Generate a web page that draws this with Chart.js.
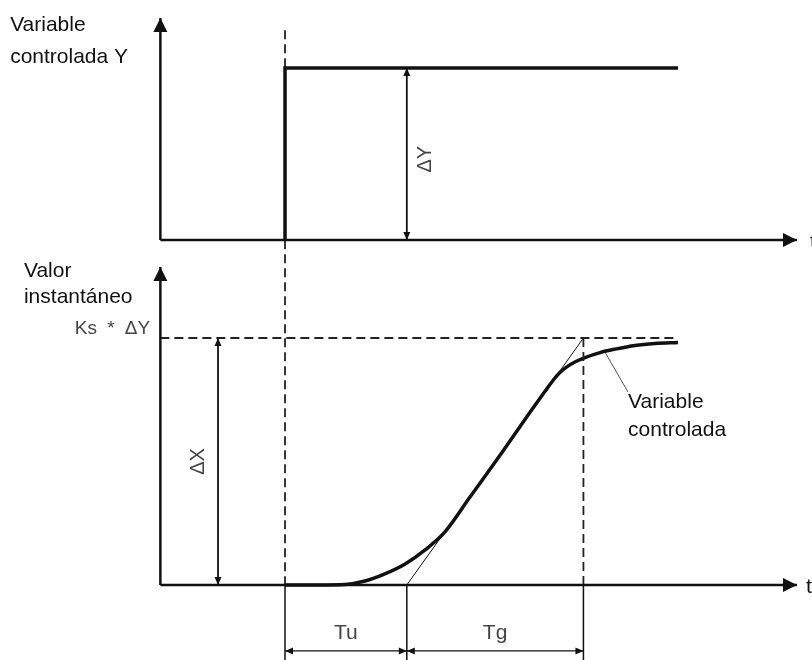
<!DOCTYPE html>
<html>
<head>
<meta charset="utf-8">
<script src="https://cdn.jsdelivr.net/npm/chart.js@4"></script>
<style>
  html, body { margin: 0; padding: 0; background: #fff; }
  #wrap { width: 812px; height: 660px; position: relative; }
</style>
</head>
<body>
<div id="wrap"><canvas id="c"></canvas></div>
<script>
// Step response: input step ΔY (upper panel) and the controlled variable (lower panel)

// time (s) of the normalized response curve and its values (fraction of Ks·ΔY)
const responseTime  = [0, 0.86, 1.48, 1.97, 2.46, 2.96, 3.45, 3.94, 4.56, 5.30, 5.79, 6.03, 6.40, 6.60, 6.77, 6.95, 7.14, 7.39, 7.76, 8.13, 8.62, 9.11, 9.68];
const responseValue = [0, 0, 0.002, 0.016, 0.045, 0.085, 0.142, 0.215, 0.357, 0.526, 0.642, 0.698, 0.783, 0.828, 0.860, 0.884, 0.903, 0.921, 0.941, 0.955, 0.970, 0.978, 0.982];

// input step
const stepTime  = [0, 0, 9.68];
const stepValue = [0, 1, 1];

const tu = 3.0;        // dead time Tu
const tg = 4.35;       // rise time Tg
const deltaY = 1;      // step height ΔY
const ksDeltaY = 1;    // final value Ks·ΔY

// axis extents
const axisStart = -3.07;
const axisTip = 12.61;
const topAxisTip = 1.29;
const bottomAxisTip = 1.287;
const deltaXAt = -1.65;
const dimLevel = -0.267;
const dimBottom = -0.32;

const INK = '#111';
const GREY = '#444';
const FONT = '"Liberation Sans", Arial, Helvetica, sans-serif';

const pts = (xs, ys) => xs.map((x, i) => ({ x, y: ys[i] }));
const seg = (x0, y0, x1, y1) => [{ x: x0, y: y0 }, { x: x1, y: y1 }];

function line(data, axis, opts) {
  return Object.assign({
    data, yAxisID: axis, borderColor: INK, borderWidth: 2,
    pointRadius: 0, fill: false, tension: 0, borderJoinStyle: 'miter', borderCapStyle: 'butt'
  }, opts || {});
}

const datasets = [
  // axes
  line(seg(axisStart, 0, axisTip, 0), 'yTop', { borderWidth: 2.5, arrowHeads: 'end', arrowSize: [14, 7] }),
  line(seg(axisStart, 0, axisStart, topAxisTip), 'yTop', { borderWidth: 2.5, arrowHeads: 'end', arrowSize: [14, 7] }),
  line(seg(axisStart, 0, axisTip, 0), 'yBot', { borderWidth: 2.5, arrowHeads: 'end', arrowSize: [14, 7] }),
  line(seg(axisStart, 0, axisStart, bottomAxisTip), 'yBot', { borderWidth: 2.5, arrowHeads: 'end', arrowSize: [14, 7] }),

  // input step
  line(pts(stepTime, stepValue), 'yTop', { borderWidth: 3.5 }),
  // ΔY dimension
  line(seg(tu, 0, tu, deltaY), 'yTop', { borderWidth: 1.8, arrowHeads: 'both', arrowSize: [8, 3.5] }),

  // Ks·ΔY level and Tu+Tg guide
  line(seg(axisStart, ksDeltaY, stepTime[2], ksDeltaY), 'yBot', { borderWidth: 1.8, borderColor: '#222', borderDash: [9, 5] }),
  line(seg(tu + tg, 0, tu + tg, ksDeltaY), 'yBot', { borderWidth: 1.8, borderColor: '#222', borderDash: [9, 5] }),
  // ΔX dimension
  line(seg(deltaXAt, 0, deltaXAt, ksDeltaY), 'yBot', { borderWidth: 1.8, arrowHeads: 'both', arrowSize: [8, 3.5] }),
  // inflection tangent
  line(seg(tu, 0, tu + tg, ksDeltaY), 'yBot', { borderWidth: 1 }),
  // controlled variable
  line(pts(responseTime, responseValue), 'yBot', { borderWidth: 3.5, cubicInterpolationMode: 'monotone' }),
  // leader to the curve label
  line(seg(7.88, 0.943, 8.45, 0.781), 'yBot', { borderWidth: 1, borderColor: '#555' }),

  // Tu / Tg dimensions below the time axis
  line(seg(0, 0, 0, dimBottom), 'yBot', { borderWidth: 1.5 }),
  line(seg(tu, 0, tu, dimBottom), 'yBot', { borderWidth: 1.5 }),
  line(seg(tu + tg, 0, tu + tg, dimBottom), 'yBot', { borderWidth: 1.5 }),
  line(seg(0, dimLevel, tu, dimLevel), 'yBot', { borderWidth: 1.2, arrowHeads: 'both', arrowSize: [8, 3.5] }),
  line(seg(tu, dimLevel, tu + tg, dimLevel), 'yBot', { borderWidth: 1.2, arrowHeads: 'both', arrowSize: [8, 3.5] })
];

// text placed in data coordinates of the panel it belongs to
const labels = [
  { text: 'Variable', t: -6.77, v: 1.217, axis: 'yTop', size: 21, color: INK, align: 'left' },
  { text: 'controlada Y', t: -6.77, v: 1.031, axis: 'yTop', size: 21, color: INK, align: 'left' },
  { text: 'Valor', t: -6.43, v: 1.248, axis: 'yBot', size: 21, color: INK, align: 'left' },
  { text: 'instantáneo', t: -6.43, v: 1.140, axis: 'yBot', size: 21, color: INK, align: 'left' },
  { text: 'Ks * ΔY', t: -3.32, v: 1.016, axis: 'yBot', size: 19, color: GREY, align: 'right', wordSpacing: '5px' },
  { text: 'ΔY', t: 3.47, v: 0.47, axis: 'yTop', size: 20, color: GREY, align: 'center', baseline: 'middle', rot: -Math.PI / 2 },
  { text: 'ΔX', t: -2.12, v: 0.50, axis: 'yBot', size: 20, color: GREY, align: 'center', baseline: 'middle', rot: -Math.PI / 2 },
  { text: 'Tu', t: tu / 2, v: -0.219, axis: 'yBot', size: 21, color: GREY, align: 'center' },
  { text: 'Tg', t: tu + tg / 2, v: -0.219, axis: 'yBot', size: 21, color: GREY, align: 'center' },
  { text: 'Variable', t: 8.45, v: 0.717, axis: 'yBot', size: 21, color: INK, align: 'left' },
  { text: 'controlada', t: 8.45, v: 0.604, axis: 'yBot', size: 21, color: INK, align: 'left' },
  { text: 't', t: 12.83, v: -0.032, axis: 'yBot', size: 21, color: INK, align: 'left' },
  { text: 't', t: 12.93, v: -0.046, axis: 'yTop', size: 21, color: INK, align: 'left' }
];

const arrowHeads = {
  id: 'arrowHeads',
  afterDatasetsDraw(chart) {
    const ctx = chart.ctx;
    chart.data.datasets.forEach((ds, i) => {
      if (!ds.arrowHeads) return;
      const p = chart.getDatasetMeta(i).data;
      const [len, half] = ds.arrowSize;
      const head = (tip, from) => {
        const a = Math.atan2(tip.y - from.y, tip.x - from.x);
        ctx.save();
        ctx.translate(tip.x, tip.y);
        ctx.rotate(a);
        ctx.beginPath();
        ctx.moveTo(0, 0);
        ctx.lineTo(-len, -half);
        ctx.lineTo(-len, half);
        ctx.closePath();
        ctx.fillStyle = ds.borderColor;
        ctx.fill();
        ctx.restore();
      };
      head(p[p.length - 1], p[p.length - 2]);
      if (ds.arrowHeads === 'both') head(p[0], p[1]);
    });
  }
};

// dashed guide at the step instant, running through both panels
const stepGuide = {
  id: 'stepGuide',
  beforeDatasetsDraw(chart) {
    const { ctx, scales } = chart;
    const x = scales.x.getPixelForValue(stepTime[0]);
    ctx.save();
    ctx.strokeStyle = '#222';
    ctx.lineWidth = 1.8;
    ctx.setLineDash([9, 5]);
    ctx.beginPath();
    ctx.moveTo(x, scales.yTop.getPixelForValue(1.22));
    ctx.lineTo(x, scales.yBot.getPixelForValue(0));
    ctx.stroke();
    ctx.restore();
  }
};

const diagramText = {
  id: 'diagramText',
  afterDraw(chart) {
    const { ctx, scales } = chart;
    labels.forEach(l => {
      ctx.save();
      ctx.translate(scales.x.getPixelForValue(l.t), scales[l.axis].getPixelForValue(l.v));
      if (l.rot) ctx.rotate(l.rot);
      ctx.font = l.size + 'px ' + FONT;
      if (l.wordSpacing) ctx.wordSpacing = l.wordSpacing;
      ctx.fillStyle = l.color;
      ctx.textAlign = l.align;
      ctx.textBaseline = l.baseline || 'alphabetic';
      ctx.fillText(l.text, 0, 0);
      ctx.restore();
    });
  }
};

new Chart(document.getElementById('c'), {
  type: 'line',
  data: { datasets },
  options: {
    responsive: true,
    maintainAspectRatio: false,
    animation: false,
    events: [],
    layout: { padding: 0 },
    plugins: { legend: { display: false }, tooltip: { enabled: false } },
    scales: {
      x: { type: 'linear', min: -7.02, max: 12.98, display: false },
      yTop: { type: 'linear', min: -2.4419, max: 1.3953, display: false },
      yBot: { type: 'linear', min: -0.3036, max: 2.3684, display: false }
    }
  },
  plugins: [stepGuide, arrowHeads, diagramText]
});
</script>
</body>
</html>
